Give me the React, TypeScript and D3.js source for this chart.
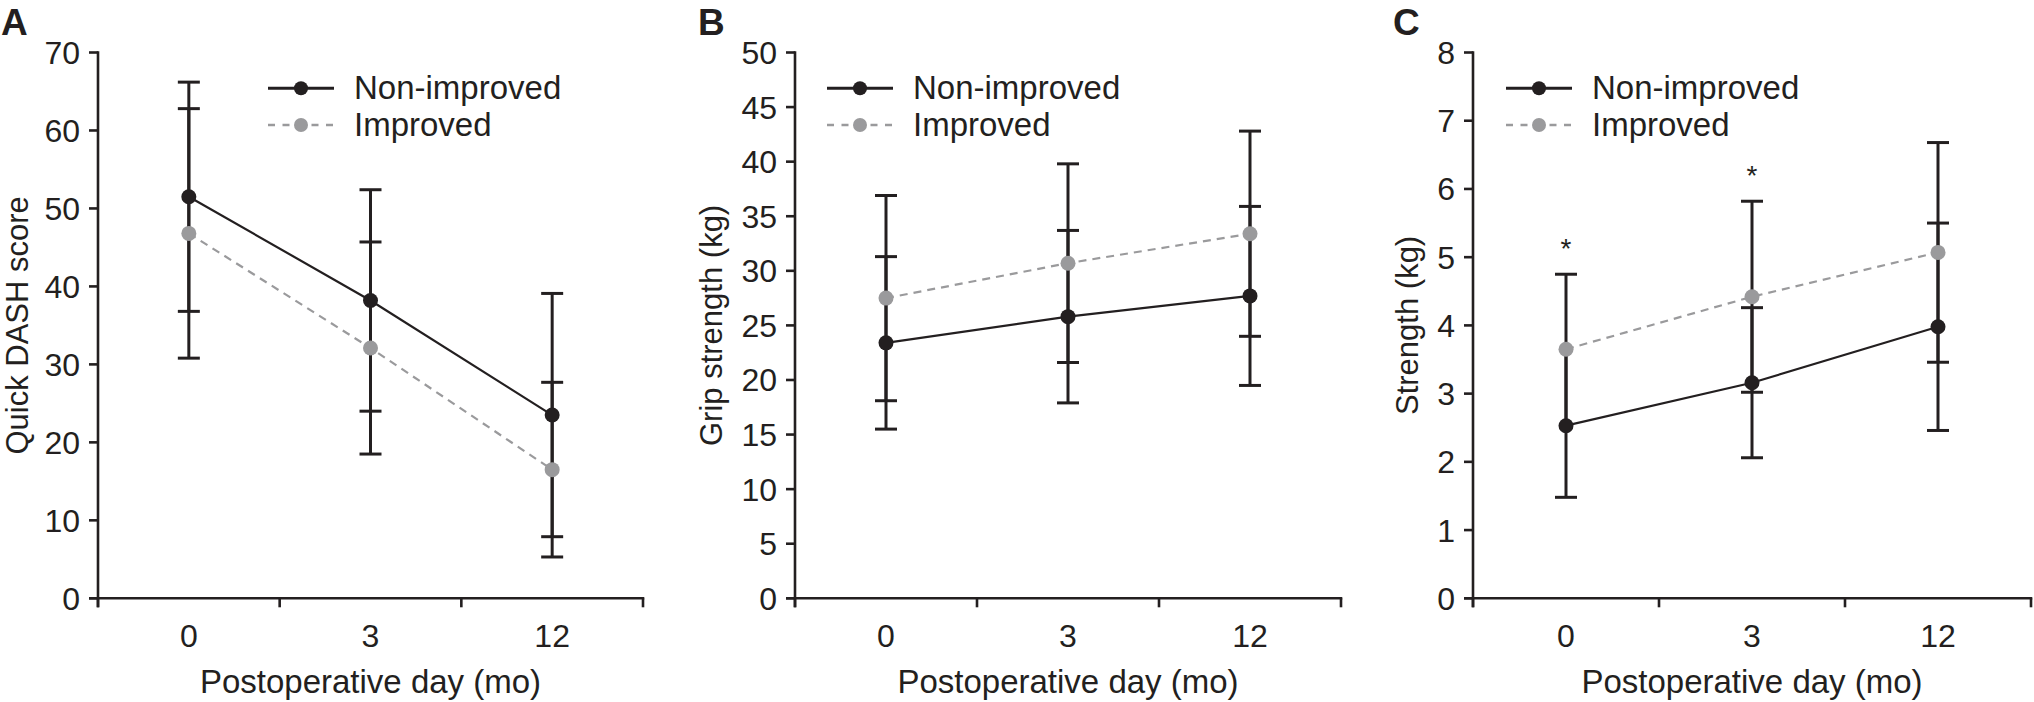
import React from 'react';
import * as d3 from 'd3';

// ---------- DATA ----------
const categories = ['0', '3', '12'];
const seriesNames = ['Non-improved', 'Improved'];

// Panel A: Quick DASH score
const dashNonImproved = [51.5, 38.2, 23.5];
const dashNonImprovedSD = [14.7, 14.2, 15.6];
const dashImproved = [46.8, 32.1, 16.5];
const dashImprovedSD = [16.0, 13.6, 11.2];
const dashTicks = [0, 10, 20, 30, 40, 50, 60, 70];

// Panel B: Grip strength (kg)
const gripNonImproved = [23.4, 25.8, 27.7];
const gripNonImprovedSD = [7.9, 7.9, 8.2];
const gripImproved = [27.5, 30.7, 33.4];
const gripImprovedSD = [9.4, 9.1, 9.4];
const gripTicks = [0, 5, 10, 15, 20, 25, 30, 35, 40, 45, 50];

// Panel C: Strength (kg)
const strNonImproved = [2.53, 3.16, 3.98];
const strNonImprovedSD = [1.05, 1.1, 1.52];
const strImproved = [3.65, 4.42, 5.07];
const strImprovedSD = [1.1, 1.4, 1.61];
const strTicks = [0, 1, 2, 3, 4, 5, 6, 7, 8];
const strSignificant = ['0', '3'];
// caps that are visible in panel C (upper cap of non-improved, lower cap of improved)
const strNonImprovedUpperCap = [false, true, true];
const strImprovedLowerCap = [false, true, true];

const xTitle = 'Postoperative day (mo)';

// ---------- STYLE / LAYOUT ----------
const FONT = '"Liberation Sans", Arial, Helvetica, sans-serif';
const INK = '#231f20';
const GRAY = '#9a9a9c';
const Y_TOP = 52.5;
const Y_BOT = 598.3;

type PanelDef = {
  letter: string;
  letterX: number;
  x0: number;
  x1: number;
  yTitle: string;
  yTitleX: number;
  ticks: number[];
  legendX: number;
  non: number[];
  nonSD: number[];
  imp: number[];
  impSD: number[];
  nonUpper?: boolean[];
  impLower?: boolean[];
  sig: string[];
};

const panels: PanelDef[] = [
  {
    letter: 'A', letterX: 1, x0: 98, x1: 643, yTitle: 'Quick DASH score', yTitleX: 28,
    ticks: dashTicks, legendX: 268, non: dashNonImproved, nonSD: dashNonImprovedSD,
    imp: dashImproved, impSD: dashImprovedSD, sig: [],
  },
  {
    letter: 'B', letterX: 698, x0: 795, x1: 1341, yTitle: 'Grip strength (kg)', yTitleX: 722,
    ticks: gripTicks, legendX: 827, non: gripNonImproved, nonSD: gripNonImprovedSD,
    imp: gripImproved, impSD: gripImprovedSD, sig: [],
  },
  {
    letter: 'C', letterX: 1393, x0: 1473, x1: 2031, yTitle: 'Strength (kg)', yTitleX: 1418,
    ticks: strTicks, legendX: 1506, non: strNonImproved, nonSD: strNonImprovedSD,
    imp: strImproved, impSD: strImprovedSD, nonUpper: strNonImprovedUpperCap,
    impLower: strImprovedLowerCap, sig: strSignificant,
  },
];

function Panel({ p }: { p: PanelDef }) {
  const x = d3.scaleBand<string>().domain(categories).range([p.x0, p.x1]).padding(0);
  const yMax = p.ticks[p.ticks.length - 1];
  const y = d3.scaleLinear().domain([0, yMax]).range([Y_BOT, Y_TOP]);
  const cx = (c: string) => (x(c) as number) + x.bandwidth() / 2;
  const line = d3
    .line<number>()
    .x((_, i) => cx(categories[i]))
    .y((d) => y(d));
  const boundaries = [...categories.map((c) => x(c) as number), p.x1];
  const capHalf = 11;
  const series = [
    {
      name: seriesNames[0], vals: p.non, sd: p.nonSD, color: INK, dash: undefined as string | undefined,
      upper: p.nonUpper || [true, true, true], lower: [true, true, true],
    },
    {
      name: seriesNames[1], vals: p.imp, sd: p.impSD, color: GRAY, dash: '8,6',
      upper: [true, true, true], lower: p.impLower || [true, true, true],
    },
  ];
  const legendY = [88.3, 125];
  const legendLen = 66;

  return (
    <g>
      <text x={p.letterX} y={35} fontFamily={FONT} fontWeight="bold" fontSize={37} fill={INK}>
        {p.letter}
      </text>
      {/* y title */}
      <text
        transform={`translate(${p.yTitleX},${(Y_TOP + Y_BOT) / 2}) rotate(-90)`}
        textAnchor="middle"
        fontFamily={FONT}
        fontSize={31}
        fill={INK}
      >
        {p.yTitle}
      </text>
      {/* y axis */}
      <line x1={p.x0} x2={p.x0} y1={Y_TOP - 1.2} y2={Y_BOT + 9} stroke={INK} strokeWidth={2.6} />
      {p.ticks.map((t) => (
        <g key={t}>
          <line x1={p.x0 - 9} x2={p.x0} y1={y(t)} y2={y(t)} stroke={INK} strokeWidth={2.6} />
          <text x={p.x0 - 18} y={y(t) + 11.5} textAnchor="end" fontFamily={FONT} fontSize={32} fill={INK}>
            {t}
          </text>
        </g>
      ))}
      {/* x axis */}
      <line x1={p.x0 - 9} x2={p.x1 + 1.3} y1={Y_BOT} y2={Y_BOT} stroke={INK} strokeWidth={2.6} />
      {boundaries.map((b, i) => (
        <line key={i} x1={b} x2={b} y1={Y_BOT} y2={Y_BOT + 9} stroke={INK} strokeWidth={2.6} />
      ))}
      {categories.map((c) => (
        <text key={c} x={cx(c)} y={647} textAnchor="middle" fontFamily={FONT} fontSize={32} fill={INK}>
          {c}
        </text>
      ))}
      <text
        x={(p.x0 + p.x1) / 2}
        y={693}
        textAnchor="middle"
        fontFamily={FONT}
        fontSize={33}
        fill={INK}
      >
        {xTitle}
      </text>
      {/* error bars */}
      {series.map((s) =>
        s.vals.map((v, i) => {
          const c = cx(categories[i]);
          const hi = y(v + s.sd[i]);
          const lo = y(v - s.sd[i]);
          return (
            <g key={s.name + i}>
              <line x1={c} x2={c} y1={hi} y2={lo} stroke={INK} strokeWidth={3} />
              {s.upper[i] && (
                <line x1={c - capHalf} x2={c + capHalf} y1={hi} y2={hi} stroke={INK} strokeWidth={3} />
              )}
              {s.lower[i] && (
                <line x1={c - capHalf} x2={c + capHalf} y1={lo} y2={lo} stroke={INK} strokeWidth={3} />
              )}
            </g>
          );
        })
      )}
      {/* lines */}
      {series.map((s) => (
        <path
          key={s.name}
          d={line(s.vals) || ''}
          fill="none"
          stroke={s.color}
          strokeWidth={2.2}
          strokeDasharray={s.dash}
        />
      ))}
      {/* dots */}
      {series.map((s) =>
        s.vals.map((v, i) => (
          <circle key={s.name + 'd' + i} cx={cx(categories[i])} cy={y(v)} r={7.5} fill={s.color} />
        ))
      )}
      {/* significance */}
      {p.sig.map((c) => {
        const i = categories.indexOf(c);
        const top = y(p.imp[i] + p.impSD[i]);
        return (
          <text key={'s' + c} x={cx(c)} y={top - 16} textAnchor="middle" fontFamily={FONT} fontSize={28} fill={INK}>
            *
          </text>
        );
      })}
      {/* legend */}
      {series.map((s, k) => (
        <g key={'l' + k}>
          <line
            x1={p.legendX}
            x2={p.legendX + legendLen}
            y1={legendY[k]}
            y2={legendY[k]}
            stroke={s.color}
            strokeWidth={k === 0 ? 3 : 2.6}
            strokeDasharray={s.dash ? '7,7.5' : undefined}
          />
          <circle cx={p.legendX + legendLen / 2} cy={legendY[k]} r={7} fill={s.color} />
          <text
            x={p.legendX + legendLen + 20}
            y={legendY[k] + 11}
            fontFamily={FONT}
            fontSize={33}
            fill={INK}
          >
            {s.name}
          </text>
        </g>
      ))}
    </g>
  );
}

export default function App() {
  return (
    <svg
      width={2034}
      height={702}
      viewBox="0 0 2034 702"
      style={{ position: 'absolute', left: 0, top: 0, background: '#fff' }}
    >
      <rect x={0} y={0} width={2034} height={702} fill="#fff" />
      {panels.map((p) => (
        <Panel key={p.letter} p={p} />
      ))}
    </svg>
  );
}
